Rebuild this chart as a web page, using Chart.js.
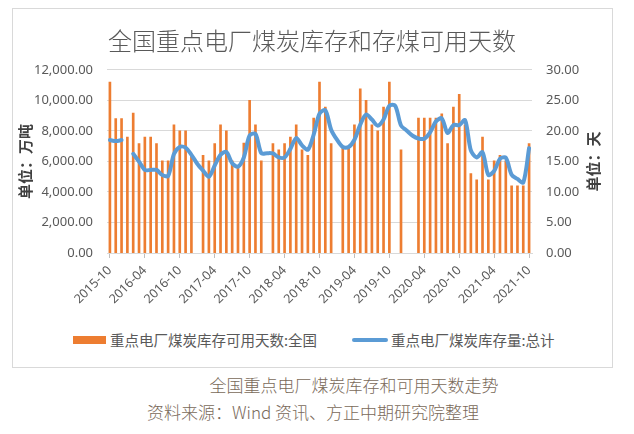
<!DOCTYPE html>
<html>
<head>
<meta charset="utf-8">
<script src="https://cdn.jsdelivr.net/npm/chart.js@4"></script>
<style>
  body { margin: 0; background: #fff; width: 634px; height: 434px; position: relative; overflow: hidden; }
  #box { position: absolute; left: 12px; top: 8px; width: 599px; height: 358px; border: 1px solid #d9d9d9; }
  #c { position: absolute; left: 12px; top: 8px; }
  .lg { position: absolute; font: 14.5px "Noto Sans CJK SC", sans-serif; color: #595959; line-height: 20px; white-space: nowrap; }
  .cap { position: absolute; font: 300 17px "Noto Sans CJK SC", sans-serif; color: #7a6a5a; white-space: nowrap; transform: translateX(-50%); }
</style>
</head>
<body>
<div id="box"></div>
<canvas id="c" width="600" height="315"></canvas>

<div style="position:absolute;left:73px;top:336px;width:33px;height:8px;background:#ED7D31"></div>
<div class="lg" style="left:110px;top:330px">重点电厂煤炭库存可用天数:全国</div>
<div style="position:absolute;left:352px;top:338px;width:36px;height:4px;border-radius:2px;background:#5B9BD5"></div>
<div class="lg" style="left:391px;top:330px">重点电厂煤炭库存量:总计</div>

<div class="cap" style="left:354px;top:372px">全国重点电厂煤炭库存和可用天数走势</div>
<div class="cap" style="left:313px;top:399px">资料来源：Wind 资讯、方正中期研究院整理</div>

<script>
// 月份 (2015-10 ~ 2021-10)
var months = [
  "2015-10","2015-11","2015-12",
  "2016-01","2016-02","2016-03","2016-04","2016-05","2016-06","2016-07","2016-08","2016-09","2016-10","2016-11","2016-12",
  "2017-01","2017-02","2017-03","2017-04","2017-05","2017-06","2017-07","2017-08","2017-09","2017-10","2017-11","2017-12",
  "2018-01","2018-02","2018-03","2018-04","2018-05","2018-06","2018-07","2018-08","2018-09","2018-10","2018-11","2018-12",
  "2019-01","2019-02","2019-03","2019-04","2019-05","2019-06","2019-07","2019-08","2019-09","2019-10","2019-11","2019-12",
  "2020-01","2020-02","2020-03","2020-04","2020-05","2020-06","2020-07","2020-08","2020-09","2020-10","2020-11","2020-12",
  "2021-01","2021-02","2021-03","2021-04","2021-05","2021-06","2021-07","2021-08","2021-09","2021-10"
];

// 重点电厂煤炭库存可用天数:全国 (天)
var days = [
  28.0, 22.0, 22.0,
  19.0, 22.9, 17.9, 19.0, 19.0, 17.9, 15.1, 15.1, 21.0, 20.0, 20.0, 16.0,
  null, 16.0, 15.1, 17.9, 21.0, 20.0, 15.1, 14.3, 18.0, 25.0, 21.0, 15.1,
  null, 17.9, 16.9, 17.9, 19.0, 21.0, 16.9, 16.0, 22.1, 28.0, 23.9, 17.9,
  null, 17.3, 17.3, 21.0, 26.9, 25.0, 21.0, 20.0, 23.9, 28.0, null, 16.9,
  null, null, 22.1, 22.1, 22.1, 22.1, 22.8, 17.9, 23.9, 26.0, 21.0, 13.0,
  12.0, 19.0, 12.0, 15.1, 16.0, 15.1, 11.0, 11.0, 11.0, 17.9
];

// 重点电厂煤炭库存量:总计 (万吨)
var stock = [
  7400, 7330, 7400,
  null, 6500, 5990, 5440, 5440, 5440, 5110, 5050, 6480, 6950, 6900, 6430,
  5850, 5400, 5000, 5730, 6430, 6620, 5880, 5660, 6260, 7700, 7800, 6540,
  6540, 6520, 6260, 6260, 6820, 7530, 7050, 6760, 7750, 9130, 9350, 8080,
  7420, 6940, 6940, 7420, 8410, 9070, 8740, 8340, 8740, 9650, 9650, 8350,
  8010, 7680, 7500, 7490, 7900, 8620, 8820, 7860, 8380, 8380, 8700, 6720,
  6260, 6600, 5110, 5370, 6170, 6240, 5130, 4850, 4620, 6870
];

var leftTicks = [0, 2000, 4000, 6000, 8000, 10000, 12000];
var rightTicks = [0, 5, 10, 15, 20, 25, 30];

var tickFont = { family: "'Noto Sans', 'Noto Sans CJK SC', sans-serif", size: 13 };
var titleFont = { family: "'Noto Sans CJK SC', sans-serif", size: 15, weight: "bold" };

// 右轴标题 (从下往上读)
var rightTitle = {
  id: "rightTitle",
  afterDraw: function (chart) {
    var s = chart.scales.y1, c = chart.ctx;
    c.save();
    c.translate(s.right - 19, (chart.chartArea.top + chart.chartArea.bottom) / 2);
    c.rotate(-Math.PI / 2);
    c.font = "bold 15px 'Noto Sans CJK SC'";
    c.fillStyle = "#404040";
    c.textAlign = "center";
    c.textBaseline = "middle";
    c.fillText("单位：天", 0, 0);
    c.restore();
  }
};

var ctx = document.getElementById("c").getContext("2d");
var chart = new Chart(ctx, {
  type: "bar",
  data: {
    labels: months,
    datasets: [
      {
        type: "line",
        label: "重点电厂煤炭库存量:总计",
        data: stock,
        yAxisID: "y",
        borderColor: "#5B9BD5",
        backgroundColor: "#5B9BD5",
        borderWidth: 4,
        pointRadius: 0,
        tension: 0.3,
        spanGaps: false,
        borderCapStyle: "round",
        borderJoinStyle: "round",
        order: 0
      },
      {
        type: "bar",
        label: "重点电厂煤炭库存可用天数:全国",
        data: days,
        yAxisID: "y1",
        backgroundColor: "#ED7D31",
        barThickness: 2,
        order: 1
      }
    ]
  },
  options: {
    responsive: false,
    devicePixelRatio: 1,
    animation: false,
    layout: { padding: 0 },
    plugins: {
      legend: { display: false },
      tooltip: { enabled: false },
      title: {
        display: true,
        text: "全国重点电厂煤炭库存和存煤可用天数",
        color: "#595959",
        font: { family: "'Noto Sans CJK SC', sans-serif", size: 24, weight: 300, lineHeight: 1.2 },
        padding: { top: 18, bottom: 15 }
      }
    },
    scales: {
      x: {
        offset: true,
        grid: {
          display: true,
          drawOnChartArea: false,
          offset: false,
          tickLength: 5,
          color: function (c) { return c.index % 6 === 0 ? "#bfbfbf" : "rgba(0,0,0,0)"; }
        },
        border: { display: true, color: "#d9d9d9" },
        ticks: {
          autoSkip: false,
          maxRotation: 45,
          minRotation: 45,
          padding: 5,
          color: "#595959",
          font: { family: "'Noto Sans', sans-serif", size: 12.5 },
          callback: function (v, i) { return i % 6 === 0 ? months[i] : ""; }
        },
        afterFit: function (s) { s.height = 70; }
      },
      y: {
        position: "left",
        min: 0,
        max: 12000,
        afterBuildTicks: function (s) { s.ticks = leftTicks.map(function (v) { return { value: v }; }); },
        grid: { color: "#d9d9d9", drawTicks: false },
        border: { display: false },
        ticks: {
          padding: 14,
          color: "#595959",
          font: tickFont,
          callback: function (v) {
            return v.toLocaleString("en-US", { minimumFractionDigits: 2, maximumFractionDigits: 2 });
          }
        },
        title: { display: true, text: "单位：万吨", color: "#404040", font: titleFont, padding: { top: 4, bottom: 0 } },
        afterFit: function (s) { s.width = 95; }
      },
      y1: {
        position: "right",
        min: 0,
        max: 30,
        afterBuildTicks: function (s) { s.ticks = rightTicks.map(function (v) { return { value: v }; }); },
        grid: { display: false, drawTicks: false },
        border: { display: false },
        ticks: {
          padding: 14,
          color: "#595959",
          font: tickFont,
          callback: function (v) { return v.toFixed(2); }
        },
        afterFit: function (s) { s.width = 80; }
      }
    }
  },
  plugins: [rightTitle]
});
</script>
</body>
</html>
